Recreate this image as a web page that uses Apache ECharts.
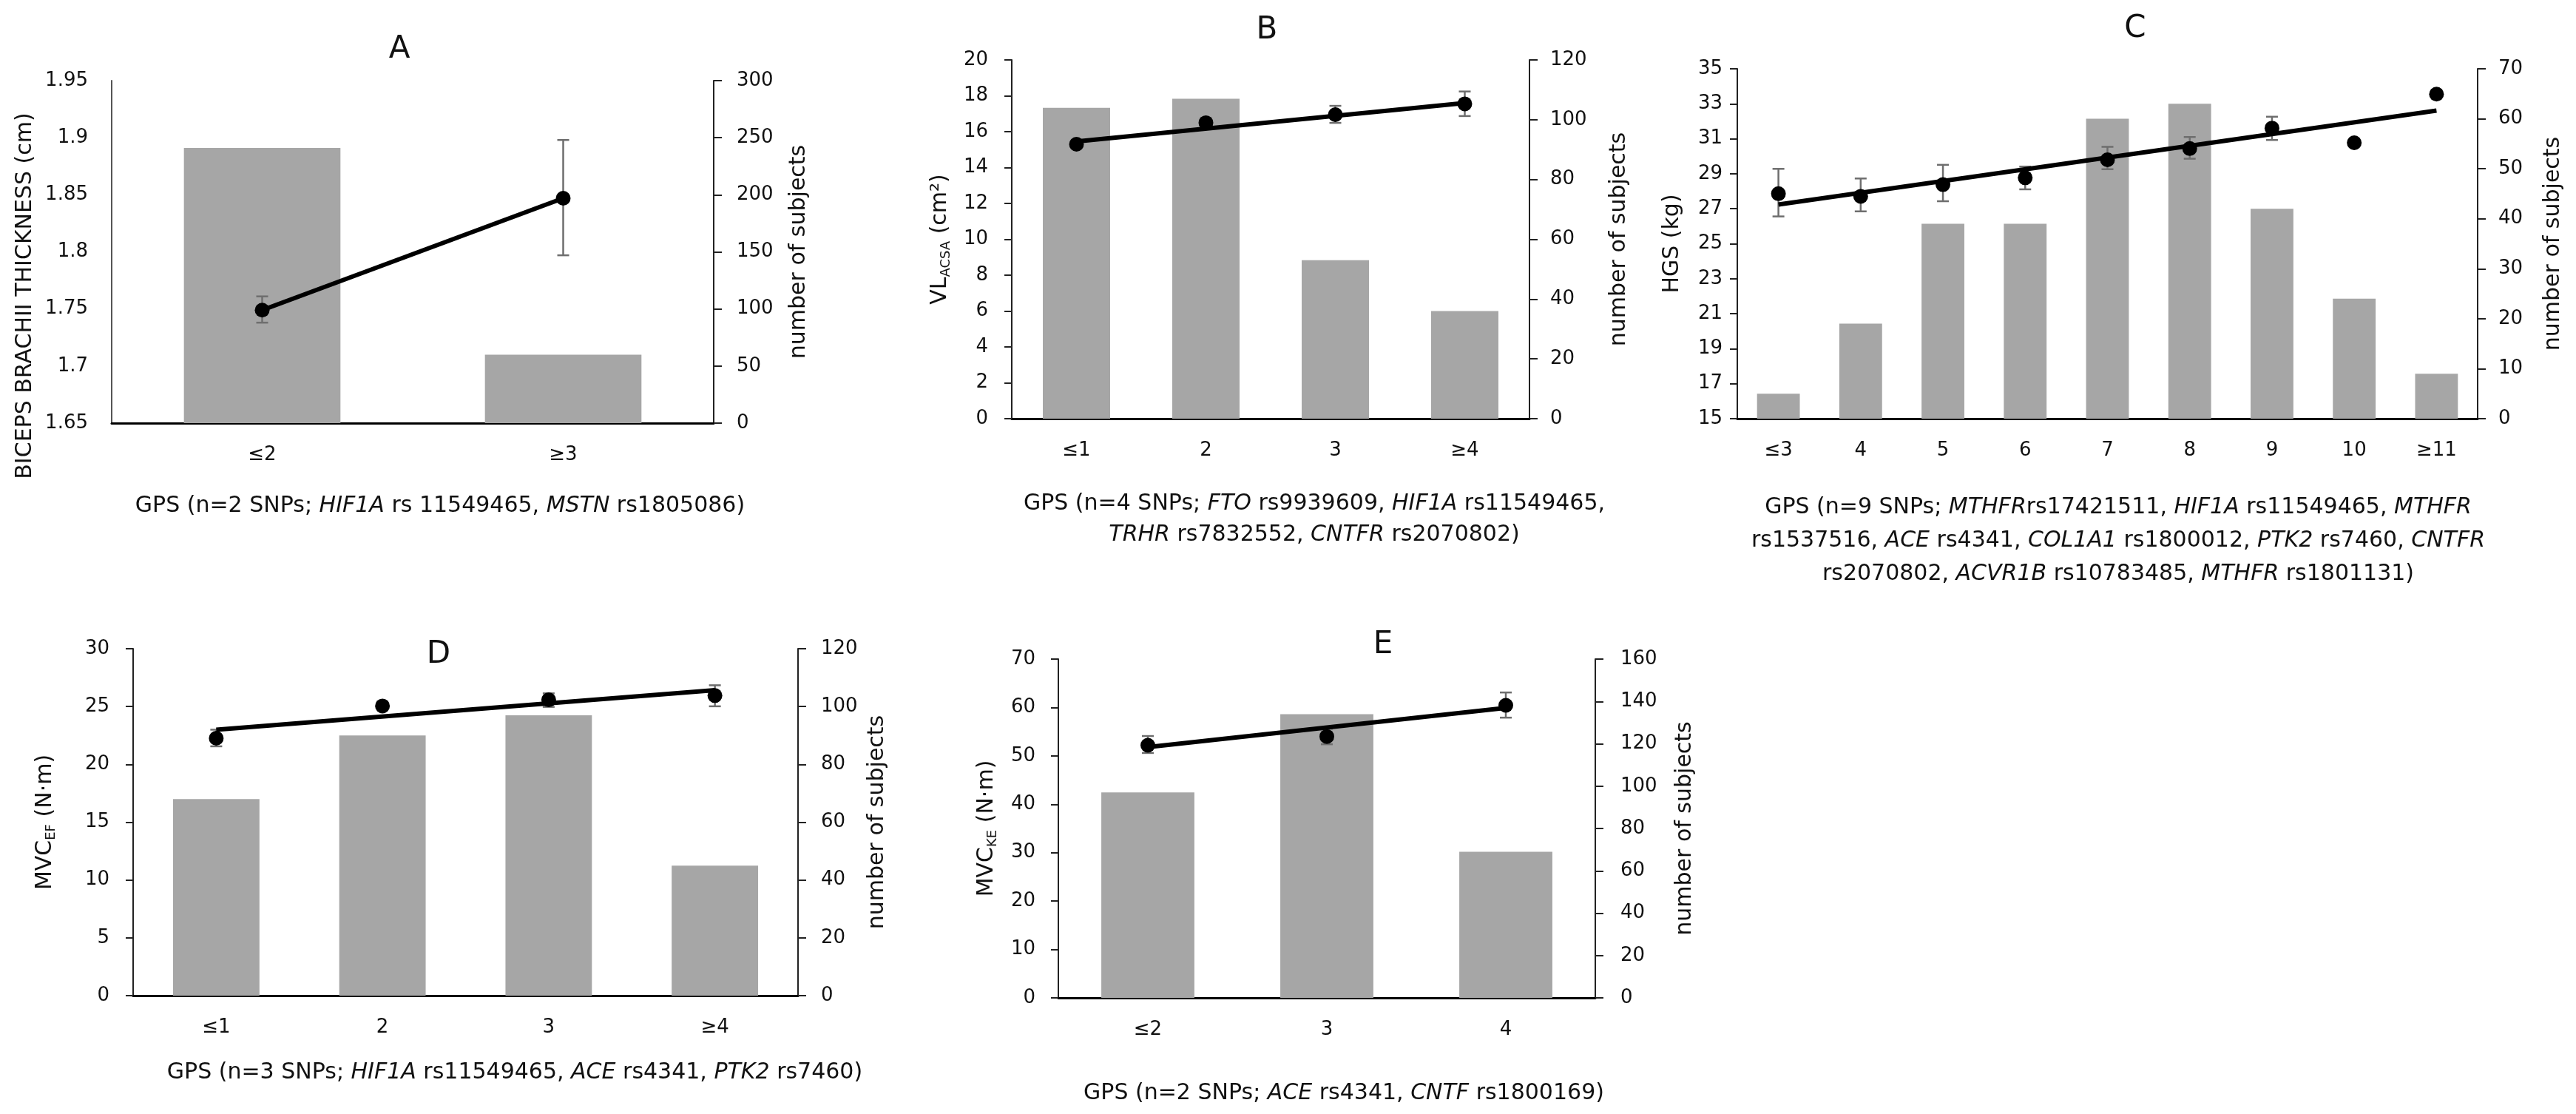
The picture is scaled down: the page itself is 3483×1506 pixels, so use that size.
<!DOCTYPE html>
<html><head><meta charset="utf-8">
<script src="https://cdn.jsdelivr.net/npm/echarts@6/dist/echarts.min.js"></script>
<style>html,body{margin:0;padding:0;background:#fff}#c{width:3483px;height:1506px}</style>
</head><body><div id="c"></div>
<script>
// ---------- DATA ----------
// Panel A
const catsA = ['≤2', '≥3'];
const barsA = [241, 60];
const meanA = [1.749, 1.847];
const lowA  = [1.738, 1.797];
const highA = [1.761, 1.898];
const axisLeftA  = [1.65, 1.95, 0.05];
const axisRightA = [0, 300, 50];
// Panel B
const catsB = ['≤1', '2', '3', '≥4'];
const barsB = [104, 107, 53, 36];
const meanB = [15.3, 16.5, 16.95, 17.55];
const lowB  = [15.1, 16.25, 16.49, 16.87];
const highB = [15.5, 16.75, 17.44, 18.24];
const trendB = [15.45, null, null, 17.6];
const axisLeftB  = [0, 20, 2];
const axisRightB = [0, 120, 20];
// Panel C
const catsC = ['≤3', '4', '5', '6', '7', '8', '9', '10', '≥11'];
const barsC = [5, 19, 39, 39, 60, 63, 42, 24, 9];
const meanC = [27.86, 27.71, 28.38, 28.77, 29.80, 30.44, 31.61, 30.77, 33.55];
const lowC  = [26.56, 26.85, 27.43, 28.11, 29.26, 29.86, 30.93, null, null];
const highC = [29.28, 28.73, 29.51, 29.41, 30.54, 31.10, 32.26, null, null];
const trendC = [27.24, null, null, null, null, null, null, null, 32.61];
const axisLeftC  = [15, 35, 2];
const axisRightC = [0, 70, 10];
// Panel D
const catsD = ['≤1', '2', '3', '≥4'];
const barsD = [68, 90, 97, 45];
const meanD = [22.26, 25.05, 25.58, 25.95];
const lowD  = [21.56, 24.75, 24.97, 25.02];
const highD = [23.0, 25.35, 26.14, 26.84];
const trendD = [23.0, null, null, 26.42];
const axisLeftD  = [0, 30, 5];
const axisRightD = [0, 120, 20];
// Panel E
const catsE = ['≤2', '3', '4'];
const barsE = [97, 134, 69];
const meanE = [52.2, 54.0, 60.45];
const lowE  = [50.6, 52.4, 57.9];
const highE = [54.1, 55.6, 63.1];
const trendE = [51.8, null, 59.9];
const axisLeftE  = [0, 70, 10];
const axisRightE = [0, 160, 20];

// Text
const titles = ['A', 'B', 'C', 'D', 'E'];
const yNameA = 'BICEPS BRACHII THICKNESS (cm)';
const yNameB = 'VL{sub|ACSA} (cm²)';
const yNameC = 'HGS (kg)';
const yNameD = 'MVC{sub|EF} (N·m)';
const yNameE = 'MVC{sub|KE} (N·m)';
const yNameRight = 'number of subjects';
const xNameA = 'GPS (n=2 SNPs; {i|HIF1A} rs 11549465, {i|MSTN} rs1805086)';
const xNameB = 'GPS (n=4 SNPs; {i|FTO} rs9939609, {i|HIF1A} rs11549465,\n{i|TRHR} rs7832552, {i|CNTFR} rs2070802)';
const xNameC = 'GPS (n=9 SNPs; {i|MTHFR}rs17421511, {i|HIF1A} rs11549465, {i|MTHFR}\nrs1537516, {i|ACE} rs4341, {i|COL1A1} rs1800012, {i|PTK2} rs7460, {i|CNTFR}\nrs2070802, {i|ACVR1B} rs10783485, {i|MTHFR} rs1801131)';
const xNameD = 'GPS (n=3 SNPs; {i|HIF1A} rs11549465, {i|ACE} rs4341, {i|PTK2} rs7460)';
const xNameE = 'GPS (n=2 SNPs; {i|ACE} rs4341, {i|CNTF} rs1800169)';

// ---------- STYLE / LAYOUT ----------
const FF = 'DejaVu Sans';
const TXT = '#111';
const BAR = '#a6a6a6';
const ERR = '#6e6e6e';

const panels = [
  {cats: catsA, bars: barsA, mean: meanA, low: lowA, high: highA, trend: null,
   L: axisLeftA, R: axisRightA, grid: {left: 151, top: 109, width: 814, height: 463},
   leftTick: false, leftMargin: 32, rightMargin: 31, leftName: '', leftGap: 0, rightGap: 100},
  {cats: catsB, bars: barsB, mean: meanB, low: lowB, high: highB, trend: trendB,
   L: axisLeftB, R: axisRightB, grid: {left: 1368, top: 81, width: 700, height: 485},
   leftTick: true, leftMargin: 32, rightMargin: 28, leftName: yNameB, leftGap: 80, rightGap: 106},
  {cats: catsC, bars: barsC, mean: meanC, low: lowC, high: highC, trend: trendC,
   L: axisLeftC, R: axisRightC, grid: {left: 2349, top: 93, width: 1001, height: 473},
   leftTick: true, leftMargin: 20, rightMargin: 28, leftName: yNameC, leftGap: 73, rightGap: 87},
  {cats: catsD, bars: barsD, mean: meanD, low: lowD, high: highD, trend: trendD,
   L: axisLeftD, R: axisRightD, grid: {left: 180, top: 877, width: 899, height: 469},
   leftTick: true, leftMargin: 32, rightMargin: 31, leftName: yNameD, leftGap: 102, rightGap: 92},
  {cats: catsE, bars: barsE, mean: meanE, low: lowE, high: highE, trend: trendE,
   L: axisLeftE, R: axisRightE, grid: {left: 1431, top: 891, width: 726, height: 458},
   leftTick: true, leftMargin: 31, rightMargin: 34, leftName: yNameE, leftGap: 80, rightGap: 106}
];

const subRich = {sub: {fontSize: 18, fontFamily: FF, color: TXT, verticalAlign: 'bottom', lineHeight: 34}};

const grids = [], xAxes = [], yAxes = [], series = [];

function errRender(params, api) {
  const lo = api.value(1), hi = api.value(2);
  if (isNaN(lo) || isNaN(hi)) return;
  const idx = api.value(0);
  const pLo = api.coord([idx, lo]);
  const pHi = api.coord([idx, hi]);
  const hw = 8;
  const st = {stroke: ERR, lineWidth: 2.5, fill: null};
  return {type: 'group', children: [
    {type: 'line', shape: {x1: pLo[0], y1: pLo[1], x2: pHi[0], y2: pHi[1]}, style: st},
    {type: 'line', shape: {x1: pLo[0] - hw, y1: pLo[1], x2: pLo[0] + hw, y2: pLo[1]}, style: st},
    {type: 'line', shape: {x1: pHi[0] - hw, y1: pHi[1], x2: pHi[0] + hw, y2: pHi[1]}, style: st}
  ]};
}

panels.forEach((p, i) => {
  grids.push(Object.assign({containLabel: false}, p.grid));
  xAxes.push({
    type: 'category', gridIndex: i, data: p.cats, boundaryGap: true,
    axisLine: {lineStyle: {color: '#000', width: 3}},
    axisTick: {show: false},
    axisLabel: {fontSize: 26, fontFamily: FF, color: TXT, margin: 30}
  });
  yAxes.push({
    type: 'value', gridIndex: i, position: 'left',
    min: p.L[0], max: p.L[1], interval: p.L[2],
    axisLine: {show: true, lineStyle: {color: i === 0 ? '#555' : '#222', width: 2}},
    axisTick: {show: p.leftTick, length: 10, lineStyle: {color: '#222', width: 2}},
    axisLabel: {fontSize: 26, fontFamily: FF, color: TXT, margin: p.leftMargin},
    splitLine: {show: false},
    name: p.leftName, nameLocation: 'middle', nameGap: p.leftGap, nameRotate: 90,
    nameTextStyle: {fontSize: 30, fontFamily: FF, color: TXT, rich: subRich}
  });
  yAxes.push({
    type: 'value', gridIndex: i, position: 'right',
    min: p.R[0], max: p.R[1], interval: p.R[2],
    axisLine: {show: true, lineStyle: {color: '#222', width: 2}},
    axisTick: {show: true, length: 11, lineStyle: {color: '#222', width: 2}},
    axisLabel: {fontSize: 26, fontFamily: FF, color: TXT, margin: p.rightMargin},
    splitLine: {show: false},
    name: yNameRight, nameLocation: 'middle', nameGap: p.rightGap, nameRotate: 90,
    nameTextStyle: {fontSize: 30, fontFamily: FF, color: TXT}
  });
  series.push({
    type: 'bar', xAxisIndex: i, yAxisIndex: 2 * i + 1, data: p.bars,
    barWidth: '52%', itemStyle: {color: BAR}, z: 1, silent: true
  });
  series.push({
    type: 'custom', xAxisIndex: i, yAxisIndex: 2 * i, renderItem: errRender,
    data: p.cats.map((c, k) => [k, p.low[k] == null ? NaN : p.low[k], p.high[k] == null ? NaN : p.high[k]]),
    encode: {x: 0, y: [1, 2]}, z: 3, silent: true
  });
  if (p.trend) {
    series.push({
      type: 'line', xAxisIndex: i, yAxisIndex: 2 * i, data: p.trend, connectNulls: true,
      showSymbol: false, symbol: 'none', lineStyle: {color: '#000', width: 6}, z: 4, silent: true
    });
    series.push({
      type: 'scatter', xAxisIndex: i, yAxisIndex: 2 * i, data: p.mean,
      symbolSize: 20, itemStyle: {color: '#000', opacity: 1}, z: 5, silent: true
    });
  } else {
    series.push({
      type: 'line', xAxisIndex: i, yAxisIndex: 2 * i, data: p.mean,
      symbol: 'circle', symbolSize: 20, showSymbol: true,
      itemStyle: {color: '#000', opacity: 1}, lineStyle: {color: '#000', width: 6}, z: 5, silent: true
    });
  }
});

function caption(text, x, yTop, lh) {
  const rich = {i: {fontStyle: 'italic', fontSize: 30, fontFamily: FF, color: TXT, lineHeight: lh}};
  return {type: 'text', x: x, y: yTop, silent: true,
    style: {text: text, fontSize: 30, fontFamily: FF, fill: TXT, align: 'center', verticalAlign: 'top',
      lineHeight: lh, rich: rich}};
}
function title(t, x, y) {
  return {type: 'text', x: x, y: y, silent: true,
    style: {text: t, fontSize: 42, fontFamily: FF, fill: TXT, align: 'center', verticalAlign: 'middle'}};
}

const graphics = [
  title(titles[0], 540, 67), title(titles[1], 1713, 41), title(titles[2], 2887, 39),
  title(titles[3], 593, 885), title(titles[4], 1870, 872),
  {type: 'text', x: 34, y: 400, rotation: Math.PI / 2, silent: true,
   style: {text: yNameA, fontSize: 30, fontFamily: FF, fill: TXT, align: 'center', verticalAlign: 'middle'}},
  caption(xNameA, 595, 684 - 22, 44),
  caption(xNameB, 1777, 681 - 21, 42),
  caption(xNameC, 2864, 686 - 22, 45),
  caption(xNameD, 696, 1450 - 22, 44),
  caption(xNameE, 1817, 1478 - 22, 44)
];

const chart = echarts.init(document.getElementById('c'), null, {renderer: 'canvas'});
chart.setOption({
  animation: false,
  backgroundColor: '#fff',
  textStyle: {fontFamily: FF},
  grid: grids, xAxis: xAxes, yAxis: yAxes, series: series, graphic: graphics
});
</script></body></html>
